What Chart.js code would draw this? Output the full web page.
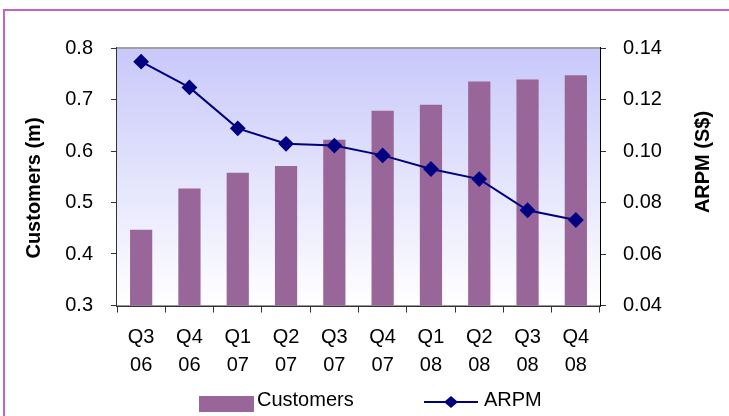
<!DOCTYPE html>
<html>
<head>
<meta charset="utf-8">
<script src="https://cdn.jsdelivr.net/npm/chart.js@4/dist/chart.umd.min.js"></script>
<style>
  body { margin: 0; background: #fff; }
</style>
</head>
<body>
<canvas id="myChart" width="729" height="416"></canvas>
<script>
// data
var quarters = ["Q3", "Q4", "Q1", "Q2", "Q3", "Q4", "Q1", "Q2", "Q3", "Q4"];
var years = ["06", "06", "07", "07", "07", "07", "08", "08", "08", "08"];
var customers = [0.447, 0.527, 0.558, 0.571, 0.622, 0.678, 0.690, 0.735, 0.739, 0.747];
var arpm = [0.1347, 0.1247, 0.1088, 0.1028, 0.1021, 0.0983, 0.0930, 0.0891, 0.0770, 0.0732];
var leftTicks = [0.3, 0.8, 0.1];
var rightTicks = [0.04, 0.14, 0.02];

var barColor = "#996699";
var lineColor = "#000080";
var font = "Liberation Sans, Arial, sans-serif";

var labels = quarters.map(function (q, i) { return [q, years[i]]; });

var decor = {
  id: "decor",
  beforeDatasetsDraw: function (chart) {
    var a = chart.chartArea, ctx = chart.ctx;
    var g = ctx.createLinearGradient(0, a.top, 0, a.bottom);
    g.addColorStop(0, "#c8c8fa");
    g.addColorStop(1, "#ffffff");
    ctx.save();
    ctx.fillStyle = g;
    ctx.fillRect(a.left, a.top, a.right - a.left, a.bottom - a.top);
    ctx.strokeStyle = "#a0a0a0";
    ctx.lineWidth = 2;
    ctx.beginPath();
    ctx.moveTo(a.left, a.top);
    ctx.lineTo(a.right, a.top);
    ctx.stroke();
    ctx.restore();
  },
  afterDraw: function (chart) {
    var ctx = chart.ctx;
    ctx.save();
    // outer frame
    ctx.strokeStyle = "#c066c0";
    ctx.lineWidth = 2;
    ctx.strokeRect(4, 10, 800, 500);

    // axis titles
    ctx.fillStyle = "#000";
    ctx.font = "bold 20px " + font;
    ctx.textAlign = "center";
    ctx.textBaseline = "middle";
    ctx.save();
    ctx.translate(34, 188);
    ctx.rotate(-Math.PI / 2);
    ctx.fillText("Customers (m)", 0, 0);
    ctx.restore();
    ctx.save();
    ctx.translate(703, 162);
    ctx.rotate(-Math.PI / 2);
    ctx.fillText("ARPM (S$)", 0, 0);
    ctx.restore();

    // legend
    ctx.font = "20px " + font;
    ctx.textAlign = "left";
    ctx.fillStyle = barColor;
    ctx.fillRect(199, 396, 55, 16);
    ctx.fillStyle = "#000";
    ctx.fillText("Customers", 257, 400);

    ctx.strokeStyle = lineColor;
    ctx.lineWidth = 2;
    ctx.beginPath();
    ctx.moveTo(424, 402);
    ctx.lineTo(478, 402);
    ctx.stroke();
    ctx.fillStyle = lineColor;
    ctx.beginPath();
    ctx.moveTo(451, 396);
    ctx.lineTo(458, 402);
    ctx.lineTo(451, 408);
    ctx.lineTo(444, 402);
    ctx.closePath();
    ctx.fill();
    ctx.fillStyle = "#000";
    ctx.fillText("ARPM", 484, 400);
    ctx.restore();
  }
};

new Chart("myChart", {
  type: "bar",
  data: {
    labels: labels,
    datasets: [{
      type: "line",
      label: "ARPM",
      data: arpm,
      yAxisID: "y1",
      borderColor: lineColor,
      backgroundColor: lineColor,
      borderWidth: 2,
      pointStyle: "rectRot",
      pointRadius: 6.5,
      pointHoverRadius: 6.5,
      tension: 0,
      order: 0
    }, {
      label: "Customers",
      data: customers,
      yAxisID: "y",
      backgroundColor: barColor,
      barPercentage: 0.46,
      categoryPercentage: 1,
      order: 1
    }]
  },
  plugins: [decor],
  options: {
    responsive: false,
    animation: false,
    layout: { padding: { top: 48, left: 0, right: 0, bottom: 0 } },
    plugins: {
      legend: { display: false },
      tooltip: { enabled: false }
    },
    scales: {
      x: {
        offset: true,
        grid: { offset: true, drawOnChartArea: false, drawTicks: true, tickLength: 7, color: "#333" },
        border: { display: true, color: "#333", width: 2 },
        ticks: { color: "#000", padding: 10.5, maxRotation: 0, font: { family: font, size: 20, lineHeight: 1.4 } },
        afterFit: function (s) { s.height = 110.5; }
      },
      y: {
        position: "left",
        min: leftTicks[0],
        max: leftTicks[1],
        grid: { drawOnChartArea: false, drawTicks: true, tickLength: 6, color: "#333" },
        border: { display: true, color: "#333", width: 2 },
        ticks: {
          stepSize: leftTicks[2],
          color: "#000",
          padding: 18,
          font: { family: font, size: 20 },
          callback: function (v) { return v.toFixed(1); }
        },
        afterFit: function (s) { s.width = 117; }
      },
      y1: {
        position: "right",
        min: rightTicks[0],
        max: rightTicks[1],
        grid: { drawOnChartArea: false, drawTicks: true, tickLength: 6, color: "#333" },
        border: { display: true, color: "#000", width: 2 },
        ticks: {
          stepSize: rightTicks[2],
          color: "#000",
          padding: 17,
          font: { family: font, size: 20 },
          callback: function (v) { return v.toFixed(2); }
        },
        afterFit: function (s) { s.width = 129; }
      }
    }
  }
});
</script>
</body>
</html>
